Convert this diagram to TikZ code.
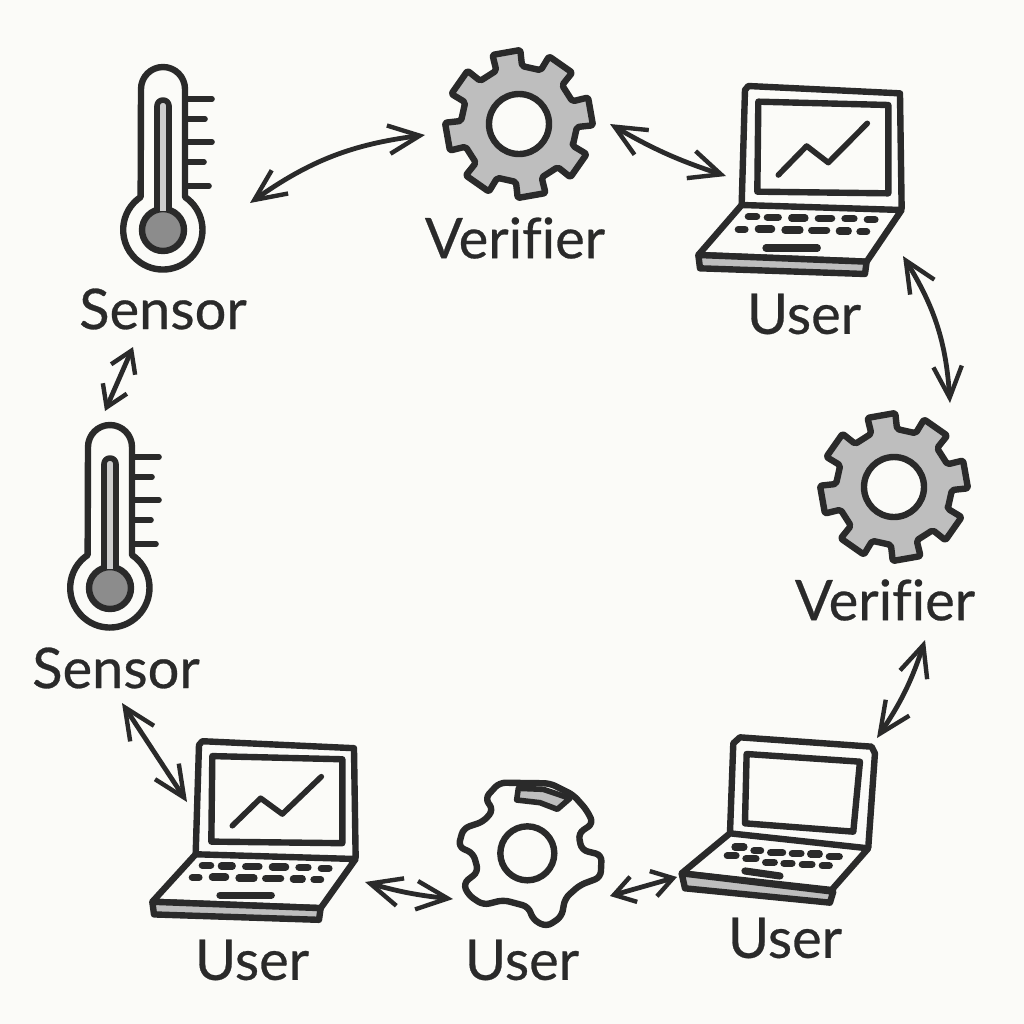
\documentclass[tikz,border=0pt]{standalone}
\usepackage{fontspec}
\setmainfont{Lato}
\newfontfamily\lblfont{Lato}[Ligatures=NoCommon, FakeBold=0.5]
\usetikzlibrary{arrows.meta}
\definecolor{paper}{RGB}{251, 251, 248}
\definecolor{ink}{RGB}{42, 42, 42}
\definecolor{geargray}{RGB}{190, 190, 190}
\definecolor{bulbgray}{RGB}{140, 140, 140}
\definecolor{tubegray}{RGB}{205, 205, 205}
\tikzset{
  outline/.style={draw=ink, line width=3.2pt, line join=round, line cap=round},
  thinline/.style={draw=ink, line width=2.8pt, line join=round, line cap=round},
  keycap/.style={draw=ink, line width=3.6pt, line cap=round},
  link/.style={{Straight Barb[length=5.5mm, width=5mm, line width=2.2pt]}-{Straight Barb[length=5.5mm, width=5mm, line width=2.2pt]}, draw=ink, line width=2.4pt},
  shortlink/.style={{Straight Barb[length=3.6mm, width=4.6mm, line width=2.2pt]}-{Straight Barb[length=3.6mm, width=4.6mm, line width=2.2pt]}, draw=ink, line width=2.4pt},
  lbl/.style={font=\lblfont\fontsize{28}{30}\selectfont, text=ink, inner sep=0pt}
}
\newcommand{\drawthermo}[3]{
  \begin{scope}[shift={(#1,#2)}]
    \draw[outline] (-22,-141) arc[start angle=180, end angle=360, radius=22] -- (22,-33)
      arc[start angle=-56, end angle=236, radius=39.66] -- cycle;
    \draw[thinline, fill=tubegray] (-6,-21) -- (-6,-124) arc[start angle=180, end angle=360, radius=6] -- (6,-21);
    \draw[outline, fill=bulbgray] (0,0) circle[radius=21];
    \fill[tubegray] (-3,-25) rectangle (3,-19);
    \foreach \tickend/\ticky in {49/-131, 42/-111, 49/-88, 41/-68, 46/-44}
      \draw[thinline] (24,\ticky) -- (\tickend,\ticky);
    \coordinate (#3) at (0,0);
  \end{scope}
}
\newcommand{\drawgear}[5]{
  \begin{scope}[shift={(#1,#2)}]
    \draw[outline, fill=#5, rounded corners=1pt] ({#3-13}:58)
      \foreach \i in {0,...,7} {
        -- ({#3+45*\i-13}:58) -- ({#3+45*\i-11}:74) -- ({#3+45*\i+11}:74) -- ({#3+45*\i+13}:58)
      } -- cycle;
    \draw[outline, fill=paper] (0,0) circle[radius=30];
    \coordinate (#4) at (0,0);
  \end{scope}
}
\newcommand{\drawlaptop}[4]{
  \begin{scope}[shift={(#1,#2)}, xscale=0.3333, yscale=#3]
    \draw[outline] (185,405) -- (195,60) -- (205,48) -- (660,70) -- (665,415);
    \draw[outline] (235,95) -- (625,105) -- (625,370) -- (232,365) -- cycle;
    \draw[thinline] (295,315) -- (380,228) -- (445,278) -- (562,160);
    \draw[outline] (185,405) -- (665,420) -- (560,575) -- (55,555) -- cycle;
    \draw[outline, fill=geargray] (55,555) -- (560,575) -- (555,612) -- (60,595) -- cycle;
    \foreach \keya/\keyb/\keyy in {205/230/440, 262/295/442, 335/375/444, 415/455/445, 495/522/446, 562/585/449,
      175/195/478, 235/275/477, 315/360/480, 395/440/481, 478/505/483, 540/560/485, 258/412/534}
      \draw[keycap] (\keya,\keyy) -- (\keyb,\keyy);
    \coordinate (#4) at (360,330);
  \end{scope}
}

\begin{document}
\begin{tikzpicture}[x=0.5pt, y=-0.5pt]

\fill[paper] (0,0) rectangle (1024,1024);

% Thermometers
\drawthermo{163}{230}{sensorA}
\drawthermo{110}{588}{sensorB}

% Gears
\drawgear{519}{124}{35}{verifierA}{geargray}
\drawgear{894}{487}{35}{verifierB}{geargray}

% Laptops
\drawlaptop{680}{70}{0.3333}{userA}
\drawlaptop{134}{726}{0.3167}{userB}

% Laptop without chart
\begin{scope}[shift={(440,730)}, scale=0.3333]
  \draw[outline] (870,310) -- (880,40) -- (900,22) -- (1295,50) -- (1305,70) -- (1285,352);
  \draw[outline] (920,72) -- (1260,95) -- (1240,305) -- (915,280) -- cycle;
  \draw[outline] (870,310) -- (1285,355) -- (1175,480) -- (725,430) -- cycle;
  \draw[outline, fill=geargray] (725,430) -- (1180,485) -- (1170,518) -- (735,475) -- cycle;
  \foreach \keya/\keyb/\keyy in {885/912/351, 942/962/362, 992/1028/368, 1057/1083/370, 1112/1138/372, 1168/1198/380,
    862/888/377, 918/948/386, 977/1003/397, 1032/1056/400, 1087/1116/403, 1147/1168/407}
    \draw[keycap] (\keya,\keyy) -- (\keyb,\keyy);
  \draw[keycap] (915,423) -- (1020,438);
  \coordinate (userC) at (1000,250);
\end{scope}

% Gear with open rim
\begin{scope}[shift={(440,730)}, scale=0.3333]
  \draw[outline, rounded corners=3pt] (135,205) -- (178,158) -- (330,160) -- (400,195) -- (440,240) -- (460,280) -- (415,310)
    -- (425,360) -- (485,375) -- (482,442) -- (420,465) -- (375,505) -- (365,560) -- (320,590) -- (280,570)
    -- (265,530) -- (190,510) -- (130,525) -- (85,495) -- (70,460) -- (115,425) -- (100,370) -- (55,350)
    -- (70,295) -- (130,275) -- (160,240) -- cycle;
  \draw[thinline, fill=geargray] (230,210) -- (235,175) -- (310,178) -- (390,205) -- (352,238) -- (300,218) -- cycle;
  \draw[outline] (262,370) circle[radius=81];
  \coordinate (userD) at (262,370);
\end{scope}

% Labels
\node[lbl] (sensorAtext) at (163,309) {Sensor};
\node[lbl] (sensorBtext) at (116,668) {Sensor};
\node[lbl] (verifierAtext) at (515,238) {Verifier};
\node[lbl] (verifierBtext) at (885,600) {Verifier};
\node[lbl] (userAtext) at (804,314) {User};
\node[lbl] (userBtext) at (252,960) {User};
\node[lbl] (userCtext) at (785,938) {User};
\node[lbl] (userDtext) at (522,960) {User};

% Free ends of the links
\coordinate (sensorA_right) at (250,203);
\coordinate (verifierA_left) at (425,135);
\coordinate (verifierA_right) at (610,124);
\coordinate (userA_left) at (726,176);
\coordinate (userA_below) at (903,256);
\coordinate (verifierB_top) at (950,403);
\coordinate (verifierB_below) at (925,640);
\coordinate (userC_top) at (877,738);
\coordinate (userC_left) at (677,877);
\coordinate (userD_right) at (610,896);
\coordinate (userD_left) at (453,899);
\coordinate (userB_right) at (365,882);
\coordinate (userB_left) at (187,802);
\coordinate (sensorB_below) at (122,703);
\coordinate (sensorB_top) at (105,411);
\coordinate (sensorA_below) at (133,347);

% Links
\draw[link] (sensorA_right) to[bend left=14] (verifierA_left);
\draw[link] (verifierA_right) to[bend right=6] (userA_left);
\draw[link] (userA_below) to[bend left=14] (verifierB_top);
\draw[link] (verifierB_below) to[bend left=8] (userC_top);
\draw[shortlink] (userC_left) -- (userD_right);
\draw[link] (userD_left) to[bend left=5] (userB_right);
\draw[link] (userB_left) -- (sensorB_below);
\draw[shortlink] (sensorB_top) -- (sensorA_below);

\end{tikzpicture}
\end{document}
